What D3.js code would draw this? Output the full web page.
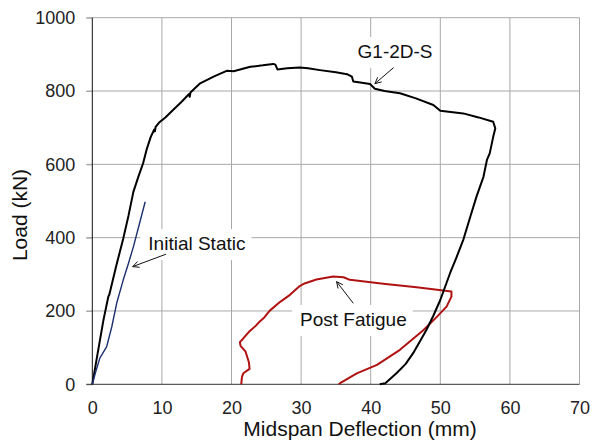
<!DOCTYPE html>
<html>
<head>
<meta charset="utf-8">
<script src="https://cdn.jsdelivr.net/npm/d3@7"></script>
<style>
  html, body { margin: 0; padding: 0; background: #fff; }
  svg { display: block; font-family: "Liberation Sans", Arial, sans-serif; }
</style>
</head>
<body>
<svg id="chart" width="592" height="444"></svg>
<script>
// Axis ticks
const xTicks = [0, 10, 20, 30, 40, 50, 60, 70];
const yTicks = [0, 200, 400, 600, 800, 1000];

// Load–deflection records: [midspan deflection (mm), load (kN)]
const g12dsCurve = [
  [0,0],[0.6,66],[1.6,175],[2.3,239],[2.45,245],[3.4,320],[4.45,398],[5.2,460],
  [5.9,525],[6.6,565],[7.3,603],[7.8,640],[8.4,675],[8.9,695],[9.0,690],[9.1,702],
  [9.6,714],[10.5,728],[11.6,748],[12.8,770],[13.9,792],[14.0,784],[14.1,796],[15.5,821],
  [17.5,840],[19.3,855],[20.3,854],[21.5,860],[22.7,866],[24.5,870],[26.0,874],
  [26.3,872],[26.6,859],[28,862],[29.8,864],[31,862],[32.7,857],[35,851],
  [36.6,846],[37.3,839],[37.5,826],[38.5,823],[39.9,819],[40.6,806],[42,800],
  [44.2,794],[46.5,780],[49.0,762],[50.0,746],[51.5,743],[53.3,739],[55.5,728],
  [57.6,716],[57.9,698],[57.6,675],[57.1,630],[56.7,612],[56.2,566],[55.2,512],
  [54.2,450],[53.3,394],[52.3,345],[51.4,303],[50.0,230],[49.0,187],[48.0,148],
  [46.1,85],[45,55],[43.7,30],[42.1,3],[41.3,0]
];
const initialStatic = [
  [0,0],[0.5,35],[1.1,72],[2.07,103],[2.8,157],[3.5,221],[4.45,285],[5.2,330],
  [5.9,375],[6.8,440],[7.6,498]
];
const postFatigue = [
  [21.4,0],[21.5,20],[21.7,30],[22.6,42],[22.5,60],[22.0,90],[21.3,105],[21.2,115],
  [21.6,123],[22.6,145],[23.5,160],[24.1,172],[24.6,180],[25.5,201],[27,225],
  [28.4,244],[29.8,268],[30.5,275],[32.2,286],[34.6,294],[36.1,292],[37.0,285],
  [41.8,274],[46.6,265],[51.6,253],[51.6,239],[50.9,212],[49.5,184],[47.6,148],
  [44.2,94],[40.9,53],[38.0,30],[35.6,3],[35.4,0]
];

// Curve labels: text, text anchor point, arrow tail and tip (data units)
const labelText = ["G1-2D-S", "Initial Static", "Post Fatigue"];
const labelPos = [[43.5, 890], [8.05, 366], [29.85, 159]];
const labelAnchor = ["middle", "start", "start"];
const arrowFrom = [[43.3, 864], [10.6, 355], [37.5, 221]];
const arrowTo = [[40.6, 820], [5.8, 321], [35.1, 280]];

const svg = d3.select("#chart");
const margin = { left: 92.3, right: 12.5, top: 17.7, bottom: 59.7 };
const W = 592, H = 444;

const x = d3.scaleLinear().domain([0, 70]).range([margin.left, W - margin.right]);
const y = d3.scaleLinear().domain([0, 1000]).range([H - margin.bottom, margin.top]);

const gridColor = "#a8a8a8";

// Gridlines
svg.append("g").selectAll("line.v").data(xTicks.filter(d => d > 0)).join("line")
  .attr("x1", d => x(d)).attr("x2", d => x(d))
  .attr("y1", y(1000)).attr("y2", y(0))
  .attr("stroke", gridColor).attr("stroke-width", 1);
svg.append("g").selectAll("line.h").data(yTicks.filter(d => d > 0)).join("line")
  .attr("x1", x(0) - 6).attr("x2", x(70))
  .attr("y1", d => y(d)).attr("y2", d => y(d))
  .attr("stroke", gridColor).attr("stroke-width", 1);

// Axes
const yAxis = svg.append("g").attr("transform", `translate(${x(0)},0)`)
  .call(d3.axisLeft(y).tickValues(yTicks).tickSize(6).tickPadding(11).tickFormat(d3.format("d")));
yAxis.select(".domain").remove();
yAxis.selectAll(".tick line").attr("stroke", gridColor);
yAxis.selectAll("text").attr("font-size", 18).attr("fill", "#222");

const xAxis = svg.append("g").attr("transform", `translate(0,${y(0)})`)
  .call(d3.axisBottom(x).tickValues(xTicks).tickSize(0).tickPadding(17).tickFormat(d3.format("d")));
xAxis.select(".domain").remove();
xAxis.selectAll("text").attr("font-size", 18).attr("fill", "#222");

svg.append("line").attr("x1", x(0) - 6).attr("x2", x(70)).attr("y1", y(0)).attr("y2", y(0))
  .attr("stroke", "#333").attr("stroke-width", 1);
svg.append("line").attr("x1", x(0)).attr("x2", x(0)).attr("y1", y(0)).attr("y2", y(1000))
  .attr("stroke", "#111").attr("stroke-width", 1);

// Axis titles
svg.append("text").attr("x", 360).attr("y", 436).attr("text-anchor", "middle")
  .attr("font-size", 21).attr("fill", "#111").text("Midspan Deflection (mm)");
svg.append("text").attr("transform", "translate(27,215) rotate(-90)").attr("text-anchor", "middle")
  .attr("font-size", 21).attr("fill", "#111").text("Load (kN)");

// Curves
const line = d3.line().x(d => x(d[0])).y(d => y(d[1]));
const plot = svg.append("g");
plot.append("path").datum(postFatigue).attr("d", line)
  .attr("fill", "none").attr("stroke", "#b01212").attr("stroke-width", 2).attr("stroke-linejoin", "round");
plot.append("path").datum(g12dsCurve).attr("d", line)
  .attr("fill", "none").attr("stroke", "#000").attr("stroke-width", 2).attr("stroke-linejoin", "round");
plot.append("path").datum(initialStatic).attr("d", line)
  .attr("fill", "none").attr("stroke", "#1c3070").attr("stroke-width", 1.4).attr("stroke-linejoin", "round");

// Labels with white backing and arrows
labelText.forEach((t, i) => {
  const g = svg.append("g");
  const bg = g.append("rect").attr("fill", "#fff");
  const txt = g.append("text").attr("x", x(labelPos[i][0])).attr("y", y(labelPos[i][1]))
    .attr("text-anchor", labelAnchor[i]).attr("font-size", 19).attr("fill", "#111").text(t);
  const bb = txt.node().getBBox();
  bg.attr("x", bb.x - 8).attr("y", bb.y - 4).attr("width", bb.width + 14).attr("height", bb.height + 10);

  const x1 = x(arrowFrom[i][0]), y1 = y(arrowFrom[i][1]);
  const x2 = x(arrowTo[i][0]), y2 = y(arrowTo[i][1]);
  const ang = Math.atan2(y2 - y1, x2 - x1);
  const hl = 7, ha = 0.45;
  svg.append("line").attr("x1", x1).attr("y1", y1).attr("x2", x2).attr("y2", y2)
    .attr("stroke", "#111").attr("stroke-width", 1);
  svg.append("path")
    .attr("d", `M${x2 - hl * Math.cos(ang - ha)},${y2 - hl * Math.sin(ang - ha)}L${x2},${y2}L${x2 - hl * Math.cos(ang + ha)},${y2 - hl * Math.sin(ang + ha)}`)
    .attr("fill", "none").attr("stroke", "#111").attr("stroke-width", 1);
});
</script>
</body>
</html>
